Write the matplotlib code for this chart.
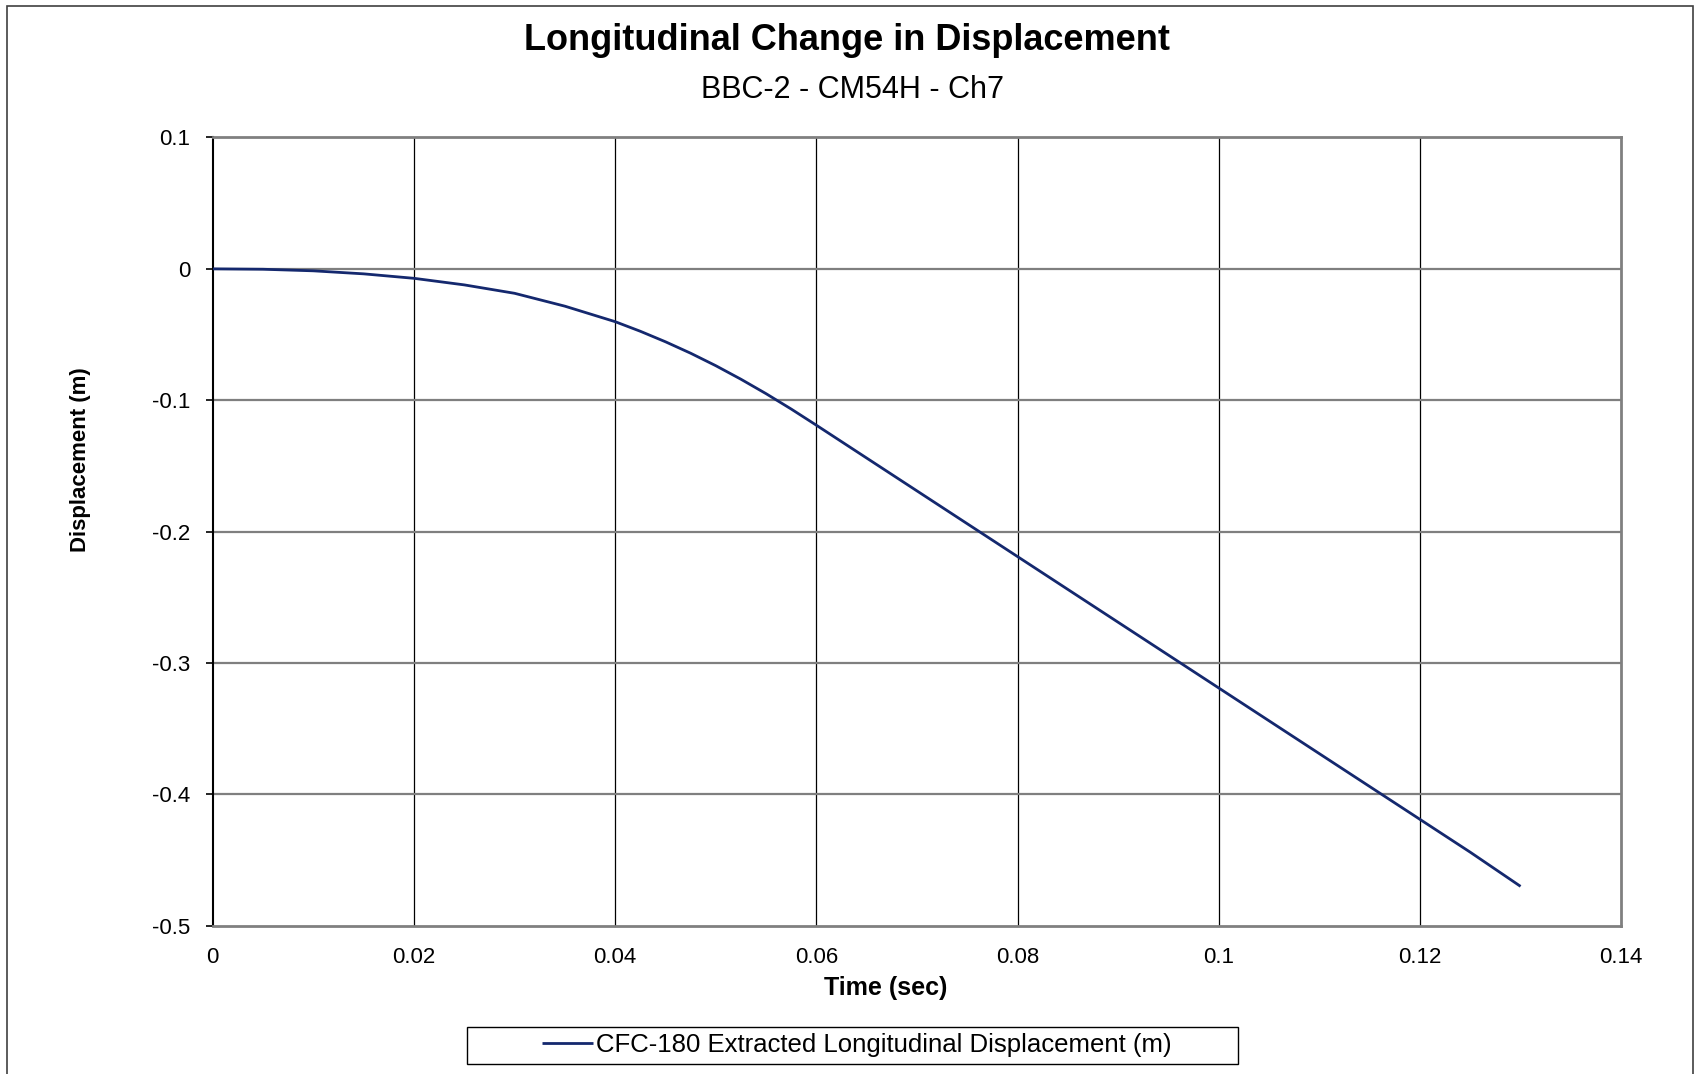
import matplotlib
matplotlib.use("Agg")
import matplotlib.pyplot as plt
from matplotlib.patches import Rectangle

plt.rcParams['font.family'] = ['Liberation Sans', 'DejaVu Sans']

# Data
time_s = [0.0, 0.005, 0.01, 0.015, 0.02, 0.025, 0.03, 0.035, 0.04, 0.0425, 0.045,
          0.0475, 0.05, 0.0525, 0.055, 0.0575, 0.06, 0.065, 0.07, 0.075, 0.08, 0.085,
          0.09, 0.095, 0.1, 0.105, 0.11, 0.115, 0.12, 0.125, 0.13]
displacement_m = [0.0, -0.0003, -0.0015, -0.0038, -0.0072, -0.0122, -0.0186, -0.0284,
                  -0.0402, -0.0475, -0.0555, -0.0642, -0.0737, -0.0840, -0.0950, -0.1067,
                  -0.1190, -0.1440, -0.1690, -0.1940, -0.2190, -0.2440, -0.2690, -0.2940,
                  -0.3190, -0.3440, -0.3690, -0.3940, -0.4190, -0.4440, -0.4700]
x_ticks = [0, 0.02, 0.04, 0.06, 0.08, 0.1, 0.12, 0.14]
x_tick_labels = ["0", "0.02", "0.04", "0.06", "0.08", "0.1", "0.12", "0.14"]
y_ticks = [-0.5, -0.4, -0.3, -0.2, -0.1, 0, 0.1]
y_tick_labels = ["-0.5", "-0.4", "-0.3", "-0.2", "-0.1", "0", "0.1"]
series_label = "CFC-180 Extracted Longitudinal Displacement (m)"
title = "Longitudinal Change in Displacement"
subtitle = "BBC-2 - CM54H - Ch7"

fig = plt.figure(figsize=(16.94, 10.74), dpi=100)
fig.patch.set_facecolor("white")
ax = fig.add_axes([0.1256, 0.138, 0.957 - 0.1256, 0.872 - 0.138])

line, = ax.plot(time_s, displacement_m, color="#14286e", lw=2.0,
                solid_capstyle="butt", solid_joinstyle="round", zorder=3)

ax.set_xlim(0, 0.14)
ax.set_ylim(-0.5, 0.1)
ax.set_xticks(x_ticks)
ax.set_xticklabels(x_tick_labels)
ax.set_yticks(y_ticks)
ax.set_yticklabels(y_tick_labels)

# gridlines
for xv in x_ticks[1:-1]:
    ax.axvline(xv, color="black", lw=0.9, zorder=1)
for yv in y_ticks[1:-1]:
    ax.axhline(yv, color="#7f7f7f", lw=1.6, zorder=1)

for side in ["top", "right", "bottom"]:
    ax.spines[side].set_color("#808080")
    ax.spines[side].set_linewidth(2.0)
ax.spines["left"].set_color("black")
ax.spines["left"].set_linewidth(1.5)

ax.tick_params(axis="x", length=0, pad=15, labelsize=16)
ax.tick_params(axis="y", length=5, width=1.2, color="black", pad=11, labelsize=16,
               direction="out")

fig.text(0.5, 0.962, title, ha="center", va="center", fontsize=26, fontweight="bold")
fig.text(0.503, 0.9165, subtitle, ha="center", va="center", fontsize=22)
fig.text(0.523, 0.0805, "Time (sec)", ha="center", va="center", fontsize=18,
         fontweight="bold")
fig.text(0.0478, 0.5724, "Displacement (m)", ha="center", va="center", fontsize=16,
         fontweight="bold", rotation=90)

# legend
leg = fig.legend([line], [series_label], loc="center", bbox_to_anchor=(0.5057, 0.027),
                 frameon=False, fontsize=18.5, handlelength=2.0, handletextpad=0.1)
fig.patches.append(Rectangle((0.2755, 0.009), 0.4554, 0.0352, transform=fig.transFigure,
                             fill=False, edgecolor="black", lw=1.0))

# outer chart frame
fig.patches.append(Rectangle((7 / 1694, -0.01), 1 - 7 / 1694 - 0.0006, 1 - 6 / 1074 + 0.01,
                             transform=fig.transFigure, fill=False,
                             edgecolor="#404040", lw=1.2))

fig.savefig("out.png", dpi=100, facecolor="white")
